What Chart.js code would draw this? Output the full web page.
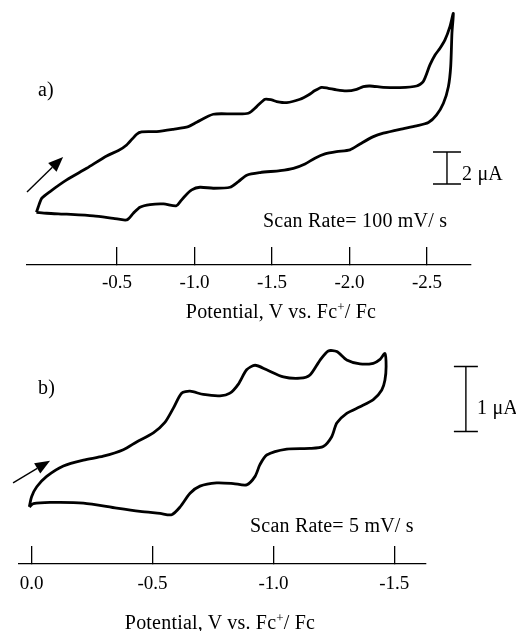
<!DOCTYPE html>
<html>
<head>
<meta charset="utf-8">
<script src="https://cdn.jsdelivr.net/npm/chart.js@4.4.1/dist/chart.umd.min.js"></script>
<style>
  body { margin: 0; background: #fff; }
  .panel { position: absolute; left: 0; }
  .lbl { position: absolute; font-family: "Liberation Serif", serif; font-size: 20px; line-height: 22px; color: #000; white-space: nowrap; letter-spacing: 0.2px; }
  .ttl { width: 320px; text-align: center; }
  .ttl sup { font-size: 13px; line-height: 0; vertical-align: 7px; }
</style>
</head>
<body>
<div class="panel" style="top:0"><canvas id="cvA" width="516" height="322"></canvas></div>
<div class="panel" style="top:322px"><canvas id="cvB" width="516" height="309"></canvas></div>

<div class="lbl" style="left:38px;top:78px">a)</div>
<div class="lbl" style="left:462px;top:162px">2 μA</div>
<div class="lbl" style="left:263px;top:209px">Scan Rate= 100 mV/ s</div>
<div class="lbl ttl" style="left:121px;top:300px">Potential, V vs. Fc<sup>+</sup>/ Fc</div>
<div class="lbl" style="left:38px;top:376px">b)</div>
<div class="lbl" style="left:477px;top:396px">1 μA</div>
<div class="lbl" style="left:250px;top:514px">Scan Rate= 5 mV/ s</div>
<div class="lbl ttl" style="left:60px;top:611px">Potential, V vs. Fc<sup>+</sup>/ Fc</div>

<script>
// a) 100 mV/s scan, potential (V vs Fc+/Fc) and current (uA, arbitrary zero)
const potA = [0.02, 0.00, -0.014, -0.068, -0.175, -0.304, -0.433, -0.509, -0.562, -0.627, -0.659, -0.756, -0.863, -0.960, -1.014, -1.121, -1.250, -1.347, -1.401, -1.455, -1.498, -1.530, -1.595, -1.681, -1.735, -1.777, -1.820, -1.863, -1.917, -1.982, -2.046, -2.089, -2.132, -2.218, -2.326, -2.433, -2.476, -2.519, -2.552, -2.584, -2.616, -2.648, -2.670,
  -2.661, -2.653, -2.638, -2.606, -2.562, -2.509, -2.433, -2.326, -2.218, -2.154, -2.068, -2.003, -1.917, -1.842, -1.777, -1.713, -1.638, -1.552, -1.423, -1.337, -1.283, -1.229, -1.121, -1.035, -0.982, -0.939, -0.906, -0.881, -0.800, -0.713, -0.648, -0.605, -0.562, -0.476, -0.347, -0.175, -0.046, 0.02];
const curA = [0, 0.55, 0.86, 1.27, 1.98, 2.69, 3.45, 3.78, 4.12, 4.78, 4.92, 4.94, 5.08, 5.24, 5.51, 6.00, 6.02, 6.06, 6.47, 6.92, 6.88, 6.78, 6.71, 6.92, 7.18, 7.45, 7.65, 7.59, 7.49, 7.43, 7.53, 7.69, 7.73, 7.65, 7.63, 7.73, 8.00, 9.02, 9.63, 10.04, 10.55, 11.37, 12.18,
  10.96, 8.92, 7.69, 6.67, 5.96, 5.49, 5.29, 5.08, 4.84, 4.63, 4.18, 3.82, 3.71, 3.57, 3.31, 2.96, 2.69, 2.55, 2.43, 2.27, 1.88, 1.53, 1.47, 1.53, 1.37, 1.00, 0.63, 0.39, 0.51, 0.47, 0.31, -0.06, -0.47, -0.37, -0.22, -0.12, -0.06, 0];

// b) 5 mV/s scan
const potB = [0.010, 0.000, -0.021, -0.062, -0.131, -0.214, -0.296, -0.379, -0.434, -0.503, -0.551, -0.586, -0.620, -0.655, -0.710, -0.779, -0.820, -0.855, -0.889, -0.924, -0.972, -1.041, -1.110, -1.151, -1.193, -1.227, -1.262, -1.303, -1.358, -1.413, -1.441, -1.461,
  -1.466, -1.461, -1.448, -1.413, -1.358, -1.303, -1.262, -1.241, -1.206, -1.151, -1.055, -0.972, -0.944, -0.924, -0.889, -0.834, -0.765, -0.696, -0.655, -0.614, -0.579, -0.531, -0.448, -0.352, -0.214, -0.076, -0.007, 0.010];
const curB = [-0.03, 0.13, 0.28, 0.44, 0.60, 0.69, 0.75, 0.85, 0.97, 1.11, 1.27, 1.49, 1.72, 1.75, 1.70, 1.68, 1.72, 1.86, 2.08, 2.15, 2.08, 1.97, 1.95, 2.00, 2.23, 2.37, 2.36, 2.23, 2.17, 2.18, 2.24, 2.33,
  2.13, 1.92, 1.77, 1.62, 1.51, 1.41, 1.26, 1.05, 0.90, 0.87, 0.86, 0.77, 0.62, 0.44, 0.31, 0.33, 0.34, 0.29, 0.18, -0.03, -0.15, -0.13, -0.10, -0.05, 0.03, 0.04, 0.02, -0.03];

const ticksA = [-0.5, -1.0, -1.5, -2.0, -2.5];
const ticksB = [0.0, -0.5, -1.0, -1.5];

// scale bar and arrow, placed in data units
const marks = {
  id: 'marks',
  afterDraw(chart, args, o) {
    const ctx = chart.ctx, xs = chart.scales.x, ys = chart.scales.y;
    ctx.save();
    ctx.strokeStyle = '#000';
    ctx.fillStyle = '#000';
    ctx.lineWidth = 1.4;
    const bx = xs.getPixelForValue(o.bar.x);
    const b0 = ys.getPixelForValue(o.bar.from), b1 = ys.getPixelForValue(o.bar.to);
    ctx.beginPath();
    ctx.moveTo(bx, b0); ctx.lineTo(bx, b1);
    ctx.moveTo(bx - o.bar.cap, b0); ctx.lineTo(bx + o.bar.cap, b0);
    ctx.moveTo(bx - o.bar.cap, b1); ctx.lineTo(bx + o.bar.cap, b1);
    ctx.stroke();
    const x0 = xs.getPixelForValue(o.arrow.x0), y0 = ys.getPixelForValue(o.arrow.y0);
    const x1 = xs.getPixelForValue(o.arrow.x1), y1 = ys.getPixelForValue(o.arrow.y1);
    const ang = Math.atan2(y1 - y0, x1 - x0), hl = 15, hw = 6;
    ctx.beginPath();
    ctx.moveTo(x0, y0);
    ctx.lineTo(x1 - hl * Math.cos(ang), y1 - hl * Math.sin(ang));
    ctx.stroke();
    ctx.beginPath();
    ctx.moveTo(x1, y1);
    ctx.lineTo(x1 - hl * Math.cos(ang) + hw * Math.sin(ang), y1 - hl * Math.sin(ang) - hw * Math.cos(ang));
    ctx.lineTo(x1 - hl * Math.cos(ang) - hw * Math.sin(ang), y1 - hl * Math.sin(ang) + hw * Math.cos(ang));
    ctx.closePath();
    ctx.fill();
    ctx.restore();
  }
};

function makeCV(id, pot, cur, tickVals, xr, yr, pad, axisH, labPad, mk) {
  return new Chart(document.getElementById(id), {
    type: 'line',
    data: {
      datasets: [{
        data: pot.map((v, i) => ({x: v, y: cur[i]})),
        borderColor: '#000',
        borderWidth: 2.8,
        pointRadius: 0,
        tension: 0.25,
        fill: false
      }]
    },
    options: {
      responsive: false,
      animation: false,
      layout: {padding: pad},
      plugins: {legend: {display: false}, tooltip: {enabled: false}, marks: mk},
      scales: {
        x: {
          type: 'linear',
          reverse: true,
          min: xr[0],
          max: xr[1],
          afterBuildTicks: s => { s.ticks = tickVals.map(v => ({value: v})); },
          afterFit: s => { s.height = axisH; s.paddingLeft = 0; s.paddingRight = 0; },
          grid: {display: true, drawOnChartArea: false, drawTicks: true, tickLength: -18, color: '#000', lineWidth: 1.3},
          border: {display: true, color: '#000', width: 1.3},
          ticks: {
            padding: labPad,
            color: '#000',
            font: {family: 'Liberation Serif', size: 19},
            callback: v => v.toFixed(1),
            maxRotation: 0,
            autoSkip: false
          }
        },
        y: {display: false, min: yr[0], max: yr[1]}
      }
    },
    plugins: [marks]
  });
}

makeCV('cvA', potA, curA, ticksA, [-2.784, 0.081], [-3.23, 12.69],
  {left: 27, right: 45, top: 5, bottom: 0}, 57, 25,
  {bar: {x: -2.629, from: 1.73, to: 3.69, cap: 14}, arrow: {x0: 0.081, y0: 1.24, x1: -0.152, y1: 3.39}});

makeCV('cvB', potB, curB, ticksB, [-1.631, 0.0525], [-0.908, 2.815],
  {left: 19, right: 90, top: 0, bottom: 0}, 67, 27,
  {bar: {x: -1.796, from: 1.13, to: 2.13, cap: 12}, arrow: {x0: 0.077, y0: 0.34, x1: -0.076, y1: 0.68}});
</script>
</body>
</html>
